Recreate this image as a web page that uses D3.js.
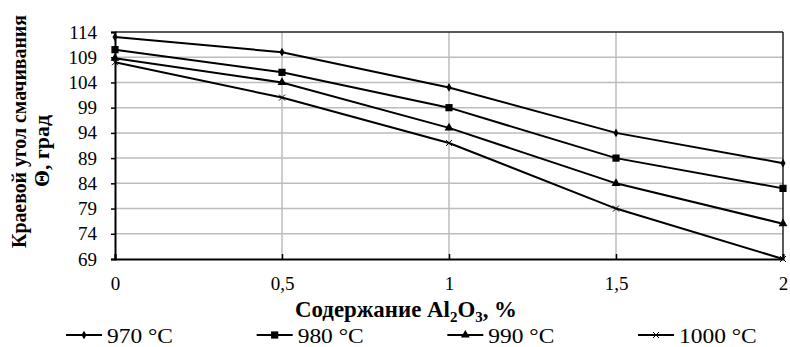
<!DOCTYPE html>
<html>
<head>
<meta charset="utf-8">
<script src="https://cdn.jsdelivr.net/npm/d3@7/dist/d3.min.js"></script>
<style>
  html, body { margin: 0; padding: 0; background: #fff; }
  svg, svg text { font-family: "Liberation Serif", Tinos, "Times New Roman", "Liberation Sans", Arial, sans-serif; }
  svg { display: block; }
</style>
</head>
<body>
<svg id="chart" width="790" height="347"></svg>
<script>
// Al2O3 content, %
const alContent = [0, 0.5, 1, 1.5, 2];
const xTickLabels = ["0", "0,5", "1", "1,5", "2"];
const yTicks = [69, 74, 79, 84, 89, 94, 99, 104, 109, 114];

// Contact angle Θ (deg) per melt temperature
const seriesNames = ["970 °C", "980 °C", "990 °C", "1000 °C"];
const angle970 = [113, 110, 103, 94, 88];
const angle980 = [110.5, 106, 99, 89, 83];
const angle990 = [108.8, 104, 95, 84, 76];
const angle1000 = [108, 101, 92, 79, 69];
const seriesValues = [angle970, angle980, angle990, angle1000];
const markerTypes = ["diamond", "square", "triangle", "cross"];

const svg = d3.select("#chart");
const m = { left: 115, right: 783, top: 32, bottom: 259 };

const x = d3.scaleLinear().domain([0, 2]).range([m.left, m.right]);
const y = d3.scaleLinear().domain([69, 114]).range([m.bottom, m.top]);

// squeeze a text horizontally (in its own frame) to a given advance width
function fitText(sel, width, tx, ty, rot) {
  const len = sel.node().getComputedTextLength();
  const s = len > 0 ? width / len : 1;
  sel.attr("transform", `translate(${tx},${ty}) rotate(${rot || 0}) scale(${s},1)`);
}

// grid
const grid = svg.append("g");
grid.selectAll("line.h").data(yTicks.filter(v => v > 69 && v < 114)).join("line")
  .attr("x1", m.left).attr("x2", m.right)
  .attr("y1", d => y(d)).attr("y2", d => y(d))
  .attr("stroke", "#bdbdbd").attr("stroke-width", 1.5);
grid.selectAll("line.v").data(alContent.filter(v => v > 0 && v < 2)).join("line")
  .attr("x1", d => x(d)).attr("x2", d => x(d))
  .attr("y1", m.top).attr("y2", m.bottom)
  .attr("stroke", "#bdbdbd").attr("stroke-width", 1.5);

// frame: top and right
svg.append("line").attr("x1", m.left).attr("x2", m.right).attr("y1", m.top).attr("y2", m.top)
  .attr("stroke", "#222").attr("stroke-width", 1.5);
svg.append("line").attr("x1", m.right).attr("x2", m.right).attr("y1", m.top).attr("y2", m.bottom)
  .attr("stroke", "#222").attr("stroke-width", 1.5);

// axes
const yAxis = d3.axisLeft(y).tickValues(yTicks).tickSize(4).tickPadding(14).tickFormat(d3.format("d"));
const gy = svg.append("g").attr("transform", `translate(${m.left},0)`).call(yAxis);
gy.attr("font-family", null);
gy.select(".domain").attr("stroke", "#000").attr("stroke-width", 2);
gy.selectAll(".tick line").attr("stroke", "#000").attr("stroke-width", 1.5);
gy.selectAll(".tick text").attr("font-size", 19).attr("fill", "#000");

const xAxis = d3.axisBottom(x).tickValues(alContent).tickSize(-5).tickPadding(18)
  .tickFormat((d, i) => xTickLabels[i]);
const gx = svg.append("g").attr("transform", `translate(0,${m.bottom})`).call(xAxis);
gx.attr("font-family", null);
gx.select(".domain").attr("stroke", "#000").attr("stroke-width", 2);
gx.selectAll(".tick line").attr("stroke", "#000").attr("stroke-width", 1.5);
gx.selectAll(".tick text").attr("font-size", 19).attr("fill", "#000");

// marker shapes
function markerPath(type) {
  switch (type) {
    case "diamond": return d3.symbol(d3.symbolDiamond, 22)();
    case "square": return d3.symbol(d3.symbolSquare, 52)();
    case "triangle": return d3.symbol(d3.symbolTriangle, 34)();
    default: return "M-3,-3L3,3M-3,3L3,-3";
  }
}
function drawMarker(g, type) {
  const p = g.append("path").attr("d", markerPath(type));
  if (type === "cross") p.attr("stroke", "#000").attr("stroke-width", 1).attr("fill", "none");
  else p.attr("fill", "#000");
}

// lines
const line = d3.line().x((d, i) => x(alContent[i])).y(d => y(d));
seriesValues.forEach((vals, s) => {
  svg.append("path").datum(vals).attr("d", line)
    .attr("fill", "none").attr("stroke", "#000").attr("stroke-width", 2);
  vals.forEach((v, i) => {
    const g = svg.append("g").attr("transform", `translate(${x(alContent[i])},${y(v)})`);
    drawMarker(g, markerTypes[s]);
  });
});

// axis titles
const yTitle = svg.append("g").attr("font-weight", "bold").attr("font-size", 20).attr("fill", "#000");
const yt1 = yTitle.append("text").attr("text-anchor", "middle").text("Краевой угол смачивания");
fitText(yt1, 233, 26, 131.5, -90);
const yt2 = yTitle.append("text").attr("text-anchor", "middle").text("Θ, град");
fitText(yt2, 72, 48.5, 151, -90);

const xTitle = svg.append("text").attr("text-anchor", "middle")
  .attr("font-weight", "bold").attr("font-size", 23).attr("fill", "#000");
xTitle.append("tspan").text("Содержание Al");
xTitle.append("tspan").attr("font-size", 15).attr("dy", 5).text("2");
xTitle.append("tspan").attr("dy", -5).text("O");
xTitle.append("tspan").attr("font-size", 15).attr("dy", 5).text("3");
xTitle.append("tspan").attr("dy", -5).text(", %");
fitText(xTitle, 222, 406, 317, 0);

// legend
const legX = d3.scalePoint().domain(seriesNames).range([66, 638]);
let legScale = null;
seriesNames.forEach((name, s) => {
  const g = svg.append("g").attr("transform", `translate(${legX(name)},335)`);
  g.append("line").attr("x1", 0).attr("x2", 36).attr("y1", 0).attr("y2", 0)
    .attr("stroke", "#000").attr("stroke-width", 2);
  const mk = g.append("g").attr("transform", "translate(18,0)");
  drawMarker(mk, markerTypes[s]);
  const t = g.append("text").attr("font-size", 22).attr("fill", "#000").text(name);
  if (legScale === null) legScale = 66 / t.node().getComputedTextLength();
  t.attr("transform", `translate(41,8) scale(${legScale},1)`);
});
</script>
</body>
</html>
